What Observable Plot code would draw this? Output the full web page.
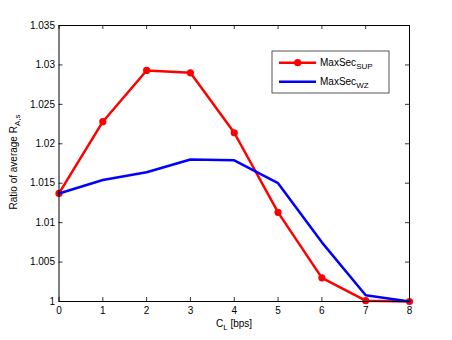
<!DOCTYPE html>
<html>
<head>
<meta charset="utf-8">
<script src="https://cdn.jsdelivr.net/npm/d3@7"></script>
<script src="https://cdn.jsdelivr.net/npm/@observablehq/plot@0.6"></script>
<style>
  html, body { margin: 0; padding: 0; background: #fff; }
  svg { display: block; }
</style>
</head>
<body>
<div id="chart"></div>
<script>
const cl = [0, 1, 2, 3, 4, 5, 6, 7, 8];
const maxSecSUP = [1.0137, 1.0228, 1.0293, 1.0290, 1.0214, 1.0113, 1.0030, 1.0001, 1.0000];
const maxSecWZ  = [1.0137, 1.0154, 1.0164, 1.0180, 1.0179, 1.0150, 1.0075, 1.0008, 1.0000];
const xTicks = [0, 1, 2, 3, 4, 5, 6, 7, 8];
const yTicks = [1, 1.005, 1.01, 1.015, 1.02, 1.025, 1.03, 1.035];
const yTickLabels = ["1", "1.005", "1.01", "1.015", "1.02", "1.025", "1.03", "1.035"];

const supData = cl.map((x, i) => ({x, y: maxSecSUP[i]}));
const wzData = cl.map((x, i) => ({x, y: maxSecWZ[i]}));

const W = 452, H = 340, mL = 58.5, mR = 43, mT = 25, mB = 39;
const plotH = H - mT - mB, plotW = W - mL - mR;
const font = "'Liberation Sans', Arial, Helvetica, sans-serif";

const chart = Plot.plot({
  width: W, height: H,
  marginLeft: mL, marginRight: mR, marginTop: mT, marginBottom: mB,
  style: {fontFamily: font, fontSize: "10px", color: "#000", background: "#fff"},
  x: {domain: [0, 8]},
  y: {domain: [1, 1.035]},
  marks: [
    Plot.tickX(xTicks, {x: d => d, insetTop: plotH - 4, stroke: "#000", strokeWidth: 0.8}),
    Plot.tickX(xTicks, {x: d => d, insetBottom: plotH - 4, stroke: "#000", strokeWidth: 0.8}),
    Plot.tickY(yTicks, {y: d => d, insetRight: plotW - 4, stroke: "#000", strokeWidth: 0.8}),
    Plot.tickY(yTicks, {y: d => d, insetLeft: plotW - 4, stroke: "#000", strokeWidth: 0.8}),
    Plot.axisX({ticks: xTicks, tickSize: 0, tickPadding: 5, label: null, tickFormat: d => String(d)}),
    Plot.axisY({ticks: yTicks, tickSize: 0, tickPadding: 4, label: null, tickFormat: (d, i) => yTickLabels[i]}),
    Plot.line(supData, {x: "x", y: "y", stroke: "#ff0000", strokeWidth: 2.5}),
    Plot.dot(supData, {x: "x", y: "y", r: 3.6, fill: "#ff0000", stroke: "none"}),
    Plot.line(wzData, {x: "x", y: "y", stroke: "#0000ff", strokeWidth: 2.5}),
    Plot.frame({stroke: "#000", strokeWidth: 1})
  ]
});

const svg = d3.select(chart);
svg.style("font-family", font);

// Y axis label with subscript
const yl = svg.append("text")
  .attr("transform", "translate(16.5,162) rotate(-90)")
  .attr("text-anchor", "middle")
  .attr("font-size", 10)
  .attr("fill", "#000");
yl.append("tspan").text("Ratio of average R");
yl.append("tspan").attr("font-size", 8).attr("dy", 3).text("A,s");

// X axis label with subscript
const xl = svg.append("text")
  .attr("x", 234).attr("y", 327)
  .attr("text-anchor", "middle")
  .attr("font-size", 10)
  .attr("fill", "#000");
xl.append("tspan").text("C");
xl.append("tspan").attr("font-size", 8).attr("dy", 3).text("L");
xl.append("tspan").attr("dy", -3).text(" [bps]");

// Legend
const lg = svg.append("g").attr("text-anchor", "start");
lg.append("rect").attr("x", 272).attr("y", 51).attr("width", 117).attr("height", 42)
  .attr("fill", "#fff").attr("stroke", "#555").attr("stroke-width", 1);
lg.append("line").attr("x1", 279).attr("x2", 316).attr("y1", 62.7).attr("y2", 62.7)
  .attr("stroke", "#ff0000").attr("stroke-width", 2.5);
lg.append("circle").attr("cx", 297.7).attr("cy", 62.7).attr("r", 3.6).attr("fill", "#ff0000");
lg.append("line").attr("x1", 279).attr("x2", 316).attr("y1", 81.7).attr("y2", 81.7)
  .attr("stroke", "#0000ff").attr("stroke-width", 2.5);
const t1 = lg.append("text").attr("x", 320).attr("y", 65.5).attr("text-anchor", "start")
  .attr("font-size", 10).attr("fill", "#000");
t1.append("tspan").text("MaxSec");
t1.append("tspan").attr("font-size", 8).attr("dy", 3).text("SUP");
const t2 = lg.append("text").attr("x", 320).attr("y", 84.5).attr("text-anchor", "start")
  .attr("font-size", 10).attr("fill", "#000");
t2.append("tspan").text("MaxSec");
t2.append("tspan").attr("font-size", 8).attr("dy", 3).text("WZ");

document.getElementById("chart").appendChild(chart);
</script>
</body>
</html>
